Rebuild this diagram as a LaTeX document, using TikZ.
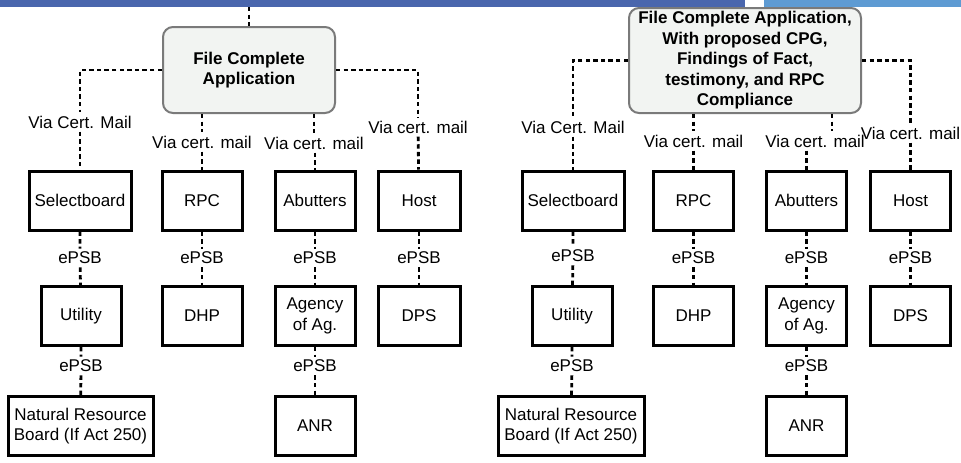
\documentclass[tikz,border=0pt]{standalone}
\usepackage{fontspec}
\setmainfont{Liberation Sans}
\usepackage{tikz}
\usetikzlibrary{shapes,arrows}
\definecolor{bardark}{HTML}{4A66AD}
\definecolor{barlight}{HTML}{5E9BD3}
\definecolor{appfill}{HTML}{F2F4F2}
\definecolor{appdraw}{HTML}{7A7A7A}
\tikzstyle{block} = [rectangle, draw, line width=1.5pt, inner sep=0pt,
    minimum width=40pt, minimum height=29.5pt, align=center,
    font=\fontsize{8.5}{10.25}\selectfont]
\tikzstyle{app} = [rectangle, draw=appdraw, fill=appfill, line width=1pt,
    rounded corners=5pt, inner sep=0pt, align=center,
    font=\fontsize{8.5}{10.25}\selectfont\bfseries]
\tikzstyle{tag} = [inner sep=1.5pt, font=\fontsize{8.5}{10.25}\selectfont]
\tikzstyle{line} = [draw, line width=1.4pt, dash pattern=on 2.2pt off 1.6pt]

\begin{document}
\begin{tikzpicture}[x=0.5pt, y=-0.5pt]
    \useasboundingbox (0,0) rectangle (961,462);
    % Top bar
    \fill [bardark] (0,0) rectangle (745,7);
    \fill [barlight] (764,0) rectangle (961,7);

    % Left chart: place nodes
    \coordinate (ltop) at (249,7);
    \node [app, minimum width=86pt, minimum height=43pt] (lapp) at (249,70) {File Complete\\Application};
    \node [tag] (lvia1) at (80,122) {Via Cert. Mail};
    \node [tag] (lvia2) at (202,142) {Via cert. mail};
    \node [tag] (lvia3) at (314,143) {Via cert. mail};
    \node [tag] (lvia4) at (418,127) {Via cert. mail};
    \node [block, minimum width=51pt] (lsel) at (80,200.5) {Selectboard};
    \node [block] (lrpc) at (202,200.5) {RPC};
    \node [block] (labut) at (315,200.5) {Abutters};
    \node [block, minimum width=41pt] (lhost) at (419,200.5) {Host};
    \node [tag] (lepsb1) at (80,258) {ePSB};
    \node [tag] (lepsb2) at (202,258) {ePSB};
    \node [tag] (lepsb3) at (315,258) {ePSB};
    \node [tag] (lepsb4) at (419,258) {ePSB};
    \node [block] (lutil) at (81,316) {Utility};
    \node [block] (ldhp) at (202,316) {DHP};
    \node [block] (lagency) at (315,316) {Agency\\of Ag.};
    \node [block, minimum width=41pt] (ldps) at (419,316) {DPS};
    \node [tag] (lepsb5) at (81,366) {ePSB};
    \node [tag] (lepsb6) at (315,366) {ePSB};
    \node [block, minimum width=72.5pt] (lnrb) at (80.5,426) {Natural Resource\\Board (If Act 250)};
    \node [block] (lanr) at (315,426) {ANR};
    % Left chart: draw edges
    \path [line] (ltop) -- (lapp);
    \path [line] (lapp.west) -| (lvia1);
    \path [line] (lapp.east) -| (lvia4);
    \path [line] (lapp.south -| lvia2) -- (lvia2);
    \path [line] (lapp.south -| lvia3) -- (lvia3);
    \path [line] (lvia1) -- (lsel);
    \path [line] (lvia2) -- (lrpc);
    \path [line] (lvia3.south -| labut) -- (labut);
    \path [line] (lvia4) -- (lhost);
    \path [line] (lsel) -- (lepsb1) -- (lutil);
    \path [line] (lrpc) -- (lepsb2) -- (ldhp);
    \path [line] (labut) -- (lepsb3) -- (lagency);
    \path [line] (lhost) -- (lepsb4) -- (ldps);
    \path [line] (lutil) -- (lepsb5) -- (lnrb);
    \path [line] (lagency) -- (lepsb6) -- (lanr);

    % Right chart: place nodes
    \node [app, minimum width=116pt, minimum height=52.5pt] (rapp) at (745,60.5)
        {File Complete Application,\\With proposed CPG,\\Findings of Fact,\\testimony, and RPC\\Compliance};
    \node [tag] (rvia1) at (573,127) {Via Cert. Mail};
    \node [tag] (rvia2) at (693.5,141) {Via cert. mail};
    \node [tag] (rvia3) at (815,141) {Via cert. mail};
    \node [tag] (rvia4) at (910.5,133) {Via cert. mail};
    \node [block, minimum width=51pt] (rsel) at (573,200.5) {Selectboard};
    \node [block] (rrpc) at (693.5,200.5) {RPC};
    \node [block] (rabut) at (806.5,200.5) {Abutters};
    \node [block] (rhost) at (910.5,200.5) {Host};
    \node [tag] (repsb1) at (573,256) {ePSB};
    \node [tag] (repsb2) at (693.5,258) {ePSB};
    \node [tag] (repsb3) at (806.5,258) {ePSB};
    \node [tag] (repsb4) at (910.5,258) {ePSB};
    \node [block] (rutil) at (572,316) {Utility};
    \node [block] (rdhp) at (693.5,316) {DHP};
    \node [block] (ragency) at (806.5,316) {Agency\\of Ag.};
    \node [block] (rdps) at (910.5,316) {DPS};
    \node [tag] (repsb5) at (572,366) {ePSB};
    \node [tag] (repsb6) at (806.5,366) {ePSB};
    \node [block, minimum width=73pt] (rnrb) at (571,426) {Natural Resource\\Board (If Act 250)};
    \node [block] (ranr) at (806.5,426) {ANR};
    % Right chart: draw edges
    \path [line] (rapp.west) -| (rvia1);
    \path [line] (rapp.east) -| (rvia4);
    \path [line] (rapp.south -| rvia2) -- (rvia2);
    \path [line] ([xshift=8.5pt]rapp.south -| rvia3) -- ([xshift=8.5pt]rvia3.north);
    \path [line] (rvia1) -- (rsel);
    \path [line] (rvia2) -- (rrpc);
    \path [line] (rvia3.south -| rabut) -- (rabut);
    \path [line] (rvia4) -- (rhost);
    \path [line] (rsel) -- (repsb1) -- (rutil);
    \path [line] (rrpc) -- (repsb2) -- (rdhp);
    \path [line] (rabut) -- (repsb3) -- (ragency);
    \path [line] (rhost) -- (repsb4) -- (rdps);
    \path [line] (rutil) -- (repsb5) -- (rnrb);
    \path [line] (ragency) -- (repsb6) -- (ranr);

\end{tikzpicture}
\end{document}
